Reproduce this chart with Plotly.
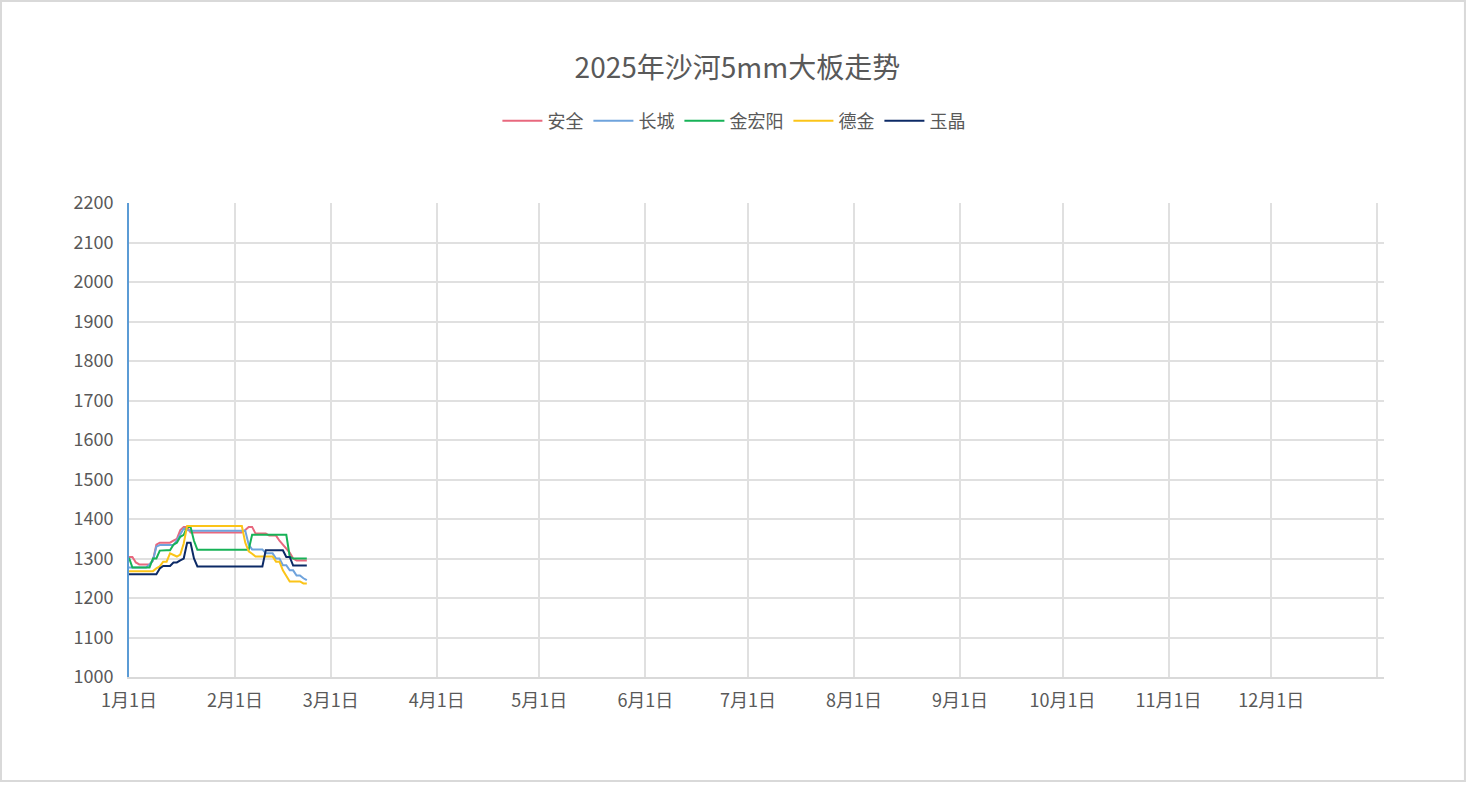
import pandas as pd
import plotly.graph_objects as go

# daily prices from 2025-01-01
dates = pd.date_range("2025-01-01", periods=53, freq="D")

anquan = [1304, 1304, 1290, 1285, 1285, 1285, 1285, 1295, 1335, 1340,
          1340, 1340, 1340, 1345, 1350, 1372, 1380, 1380,
          1366, 1366, 1366, 1366, 1366, 1366, 1366, 1366, 1366, 1366,
          1366, 1366, 1366, 1366, 1366, 1366,
          1372, 1380, 1380, 1363, 1363, 1363, 1363, 1358, 1358, 1358,
          1345, 1335, 1325, 1315, 1300, 1295, 1295, 1295, 1295]

changcheng = [1277, 1277, 1277, 1277, 1277, 1277, 1285, 1295, 1330,
              1334, 1334, 1334, 1334, 1334, 1346, 1360, 1376, 1372,
              1370, 1370, 1370, 1370, 1370, 1370, 1370, 1370, 1370, 1370,
              1370, 1370, 1370, 1370, 1370, 1370,
              1370, 1335, 1323, 1323, 1323, 1323, 1313, 1313, 1313,
              1300, 1300, 1283, 1283, 1270, 1270, 1257, 1257, 1250, 1245]

jinhongyang = [1302, 1277, 1277, 1277, 1277, 1277, 1277, 1300, 1300, 1320,
               1321, 1321, 1321, 1335, 1340, 1355, 1360, 1380, 1380, 1345,
               1322, 1322, 1322, 1322, 1322, 1322, 1322, 1322, 1322, 1322,
               1322, 1322, 1322, 1322, 1322, 1322,
               1360, 1360, 1360, 1360, 1360, 1360, 1360, 1360, 1360, 1360,
               1360, 1305, 1300, 1300, 1300, 1300, 1300]

dejin = [1268, 1268, 1268, 1268, 1268, 1268, 1268, 1268, 1275, 1280,
         1292, 1292, 1313, 1308, 1305, 1310, 1338,
         1382, 1382, 1382, 1382, 1382, 1382, 1382, 1382, 1382, 1382,
         1382, 1382, 1382, 1382, 1382, 1382, 1382,
         1340, 1318, 1312, 1305, 1305, 1305, 1305, 1305, 1305,
         1292, 1292, 1270, 1255, 1242, 1242, 1242, 1242, 1237, 1237]

yujing = [1260, 1260, 1260, 1260, 1260, 1260, 1260, 1260, 1260, 1275,
          1281, 1281, 1281, 1290, 1290, 1295, 1300, 1340, 1340, 1300,
          1280, 1280, 1280, 1280, 1280, 1280, 1280, 1280, 1280, 1280,
          1280, 1280, 1280, 1280, 1280, 1280, 1280, 1280, 1280, 1280,
          1321, 1321, 1321, 1321, 1321, 1321, 1304, 1304,
          1282, 1282, 1282, 1282, 1282]

series_names = ["安全", "长城", "金宏阳", "德金", "玉晶"]
series_values = [anquan, changcheng, jinhongyang, dejin, yujing]
colors = ["#e8687e", "#6fa3dc", "#17b257", "#fbc419", "#0c2a66"]

month_ticks = ["2025-%02d-01" % m for m in range(1, 13)] + ["2026-01-01"]
month_labels = ["%d月1日" % m for m in range(1, 13)] + [""]

font_family = "Noto Sans CJK SC, Microsoft YaHei, sans-serif"
text_color = "#595959"

fig = go.Figure()
for name, values, color in zip(series_names, series_values, colors):
    fig.add_trace(go.Scatter(x=dates, y=values, name=name, mode="lines",
                             line=dict(color=color, width=2)))

fig.update_layout(
    width=1466, height=790,
    margin=dict(l=129, r=82, t=203, b=113),
    paper_bgcolor="white", plot_bgcolor="white",
    font=dict(family=font_family, size=16, color=text_color),
    title=dict(text="2025年沙河5mm大板走势", x=0.503, xanchor="center",
               y=1 - 68 / 790, yanchor="middle",
               font=dict(size=28, color=text_color)),
    legend=dict(orientation="h", x=0.482, xanchor="center",
                y=1.173, yanchor="middle", itemwidth=40,
                font=dict(size=18, color=text_color)),
    showlegend=True,
)

fig.update_xaxes(
    type="date", range=["2025-01-01", "2026-01-03"],
    tickmode="array", tickvals=month_ticks, ticktext=month_labels,
    tickfont=dict(size=18),
    showgrid=True, gridcolor="#e0e0e0", gridwidth=1.5,
    showline=True, linecolor="#d9d9d9", linewidth=2,
    ticks="", ticklabelstandoff=6, zeroline=False,
)
fig.update_yaxes(
    range=[1000, 2200], dtick=100, tick0=1000,
    tickfont=dict(size=18),
    showgrid=True, gridcolor="#e0e0e0", gridwidth=1.5,
    showline=True, linecolor="#5b9bd5", linewidth=2,
    ticks="", ticklabelstandoff=10, zeroline=False,
)

# outer frame
fig.add_shape(type="rect", xref="paper", yref="paper",
              x0=-0.102, x1=1.0645, y0=-0.2194, y1=1.426,
              line=dict(color="#d9d9d9", width=2), layer="below")

fig.write_html("out.html", config={"displayModeBar": False},
               post_script="document.body.style.margin='0';")
